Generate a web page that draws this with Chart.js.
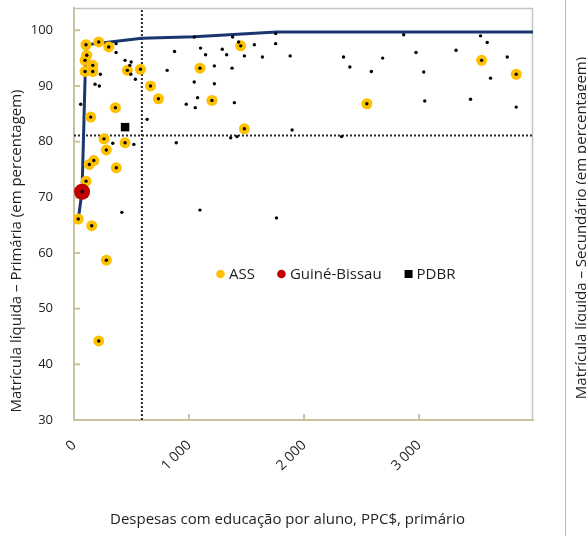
<!DOCTYPE html>
<html><head><meta charset="utf-8">
<script src="https://cdn.jsdelivr.net/npm/chart.js@4.4.0/dist/chart.umd.min.js"></script>
<style>html,body{margin:0;padding:0;background:#fff;}#wrap{width:586px;height:536px;position:relative;}</style>
</head><body><div id="wrap"><canvas id="c" width="586" height="536"></canvas></div>
<script>
const FONT = '"Open Sans", "Noto Sans", sans-serif';
// ---- data ----
const assSpend = [104,215,302,111,96,163,96,163,464,578,665,734,360,145,444,261,281,172,133,368,105,1095,1199,1449,1481,37,154,281,215,2546,3543,3844];
const assEnrol = [97.4,97.9,97.0,95.5,94.6,93.7,92.6,92.6,92.8,93.0,90.0,87.7,86.1,84.4,79.8,80.5,78.5,76.6,75.9,75.3,72.9,93.2,87.4,97.2,82.3,66.1,64.9,58.7,44.2,86.8,94.6,92.1];
const otherSpend = [366,366,444,497,485,494,534,229,183,220,58,337,520,636,874,1045,1100,1144,1289,1327,1379,1431,1568,1481,1220,1374,810,1045,1220,1074,976,1054,1394,889,1362,1417,416,1095,1760,1753,1753,1638,1879,1896,2326,2343,2398,2585,2683,2866,2973,3040,3049,3321,3447,3534,3592,3621,3766,3844];
const otherEnrol = [97.6,96.0,94.6,94.3,93.7,92.1,91.2,92.1,90.3,90.0,86.7,79.7,79.5,84.0,96.2,98.8,96.8,95.6,96.6,95.6,98.8,97.9,97.4,95.4,93.6,93.2,92.8,90.7,90.4,87.9,86.7,86.1,87.0,79.8,80.7,80.9,67.3,67.7,66.3,99.4,97.6,95.2,95.4,82.1,80.9,95.2,93.4,92.6,95.0,99.2,96.0,92.5,87.3,96.4,87.6,99.0,97.8,91.4,95.2,86.2];
const gbSpend = [70];
const gbEnrol = [71.0];
const pdbrSpend = [444];
const pdbrEnrol = [82.6];
const frontierSpend = [37,70,104,590,1045,1760,3990];
const frontierEnrol = [66.1,71.0,97.4,98.55,98.85,99.7,99.7];
const refSpend = 590;
const refEnrol = 81.1;
const xTickValues = [0,1000,2000,3000];
const xTickLabels = ['0','1 000','2 000','3 000'];
const yTickValues = [30,40,50,60,70,80,90,100];
const xRange = [0,3990];
const yRange = [30,104];
const legendLabels = ['ASS','Guiné-Bissau','PDBR'];
const xTitle = 'Despesas com educação por aluno, PPC$, primário';
const yTitle = 'Matrícula líquida – Primária (em percentagem)';
const y2Title = 'Matrícula líquida – Secundário (em percentagem)';

const pts = (xs, ys) => xs.map((x, i) => ({x, y: ys[i]}));
const ORANGE = '#ffc000', RED = '#c00000', NAVY = '#1b3570', TAN = '#c9c29f', GRAY = '#c4c4c4', TXT = '#1e1e1e';

const decor = {
  id: 'decor',
  beforeDatasetsDraw(chart) {
    const {ctx, chartArea: a, scales: {x, y}} = chart;
    ctx.save();
    ctx.strokeStyle = GRAY; ctx.lineWidth = 1.5;
    ctx.beginPath(); ctx.moveTo(a.left, a.top + 0.5); ctx.lineTo(a.right - 0.5, a.top + 0.5); ctx.lineTo(a.right - 0.5, a.bottom); ctx.stroke();
    ctx.strokeStyle = TAN; ctx.lineWidth = 2;
    yTickValues.forEach(v => { const py = y.getPixelForValue(v); ctx.beginPath(); ctx.moveTo(a.left, py); ctx.lineTo(a.left + 6, py); ctx.stroke(); });
    xTickValues.forEach(v => { const px = x.getPixelForValue(v); ctx.beginPath(); ctx.moveTo(px, a.bottom); ctx.lineTo(px, a.bottom - 6); ctx.stroke(); });
    ctx.restore();
  },
  afterDraw(chart) {
    const {ctx, chartArea: a, height} = chart;
    ctx.save();
    ctx.strokeStyle = '#bdbdbd'; ctx.lineWidth = 1;
    ctx.beginPath(); ctx.moveTo(a.right + 32.5, 0); ctx.lineTo(a.right + 32.5, height); ctx.stroke();
    ctx.fillStyle = TXT;
    ctx.textAlign = 'center'; ctx.textBaseline = 'middle';
    ctx.font = '15px ' + FONT;
    ctx.fillText(xTitle, a.left + 213.5, a.bottom + 100);
    ctx.save(); ctx.translate(17, a.top + 243); ctx.rotate(-Math.PI / 2); ctx.fillText(yTitle, 0, 0); ctx.restore();
    ctx.save(); ctx.translate(a.right + 49, a.top + 220); ctx.rotate(-Math.PI / 2); ctx.fillText(y2Title, 0, 0); ctx.restore();
    // legend
    const items = [{c: ORANGE, s: 'circle'}, {c: RED, s: 'circle'}, {c: '#000', s: 'rect'}];
    let lx = a.left + 142; const ly = a.top + 266;
    ctx.textAlign = 'left';
    items.forEach((it, i) => {
      ctx.fillStyle = it.c;
      if (it.s === 'circle') { ctx.beginPath(); ctx.arc(lx + 4.5, ly, 4.3, 0, Math.PI * 2); ctx.fill(); }
      else { ctx.fillRect(lx + 1, ly - 4, 8, 8); }
      ctx.fillStyle = TXT;
      ctx.fillText(legendLabels[i], lx + 13, ly + 1);
      lx += 13 + ctx.measureText(legendLabels[i]).width + 22;
    });
    ctx.restore();
  }
};

new Chart(document.getElementById('c'), {
  type: 'scatter',
  data: {
    datasets: [
      {label: 'Países', data: pts(otherSpend.concat(assSpend, gbSpend), otherEnrol.concat(assEnrol, gbEnrol)), backgroundColor: '#000', borderWidth: 0, pointRadius: 1.7, order: 0},
      {label: 'PDBR', data: pts(pdbrSpend, pdbrEnrol), backgroundColor: '#000', borderWidth: 0, pointStyle: 'rect', pointRadius: 6, order: 1},
      {label: 'Guiné-Bissau', data: pts(gbSpend, gbEnrol), backgroundColor: RED, borderWidth: 0, pointRadius: 8, order: 2},
      {label: 'ASS', data: pts(assSpend, assEnrol), backgroundColor: ORANGE, borderWidth: 0, pointRadius: 5.5, order: 3},
      {type: 'line', label: 'Fronteira', data: pts(frontierSpend, frontierEnrol), borderColor: NAVY, borderWidth: 3, pointRadius: 0, fill: false, tension: 0, order: 4},
      {type: 'line', label: 'refX', data: [{x: refSpend, y: yRange[0]}, {x: refSpend, y: yRange[1]}], borderColor: '#2a2a2a', borderWidth: 2, borderDash: [2, 2], pointRadius: 0, order: 5},
      {type: 'line', label: 'refY', data: [{x: xRange[0], y: refEnrol}, {x: xRange[1], y: refEnrol}], borderColor: '#2a2a2a', borderWidth: 2, borderDash: [2, 2], pointRadius: 0, order: 5}
    ]
  },
  options: {
    responsive: false, animation: false,
    layout: {padding: {left: 0, right: 53, top: 8, bottom: 0}},
    plugins: {legend: {display: false}, tooltip: {enabled: false}},
    scales: {
      x: {
        type: 'linear', min: xRange[0], max: xRange[1],
        afterBuildTicks: s => { s.ticks = xTickValues.map(v => ({value: v})); },
        afterFit: s => { s.height = 116; },
        grid: {display: false, drawTicks: true, tickLength: 17},
        border: {display: true, color: TAN, width: 2},
        ticks: {minRotation: 45, maxRotation: 45, padding: 0, color: TXT, font: {family: FONT, size: 14},
          callback: (v) => xTickLabels[xTickValues.indexOf(v)]}
      },
      y: {
        type: 'linear', min: yRange[0], max: yRange[1],
        afterBuildTicks: s => { s.ticks = yTickValues.map(v => ({value: v})); },
        afterFit: s => { s.width = 74; },
        grid: {display: false, drawTicks: true, tickLength: 21},
        border: {display: true, color: TAN, width: 2},
        ticks: {padding: 0, color: TXT, font: {family: FONT, size: 13}}
      }
    }
  },
  plugins: [decor]
});
</script></body></html>
